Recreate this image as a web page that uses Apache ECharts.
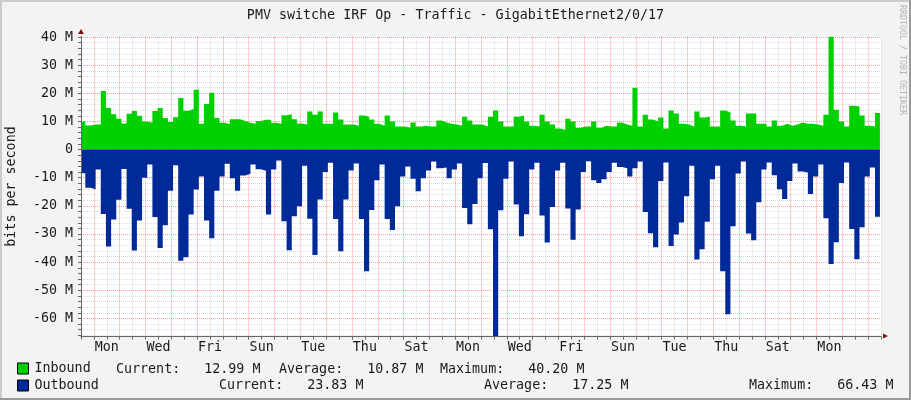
<!DOCTYPE html>
<html>
<head>
    <meta charset="utf-8">
    <title>PMV switche IRF Op - Traffic</title>
    <script src="https://cdn.jsdelivr.net/npm/echarts@6/dist/echarts.min.js"></script>
    <style>
        html, body { margin: 0; padding: 0; background: #f3f3f3; }
    </style>
</head>
<body>
    <div id="chart" style="width: 911px;height:400px;"></div>
    <script type="text/javascript">
        // values in M (bits per second), one per 4.8 hour step
        var inbound = [
            10.0, 8.6, 8.9, 8.9, 20.8, 14.8, 12.6, 11.0, 9.3, 12.7, 13.7, 12.0, 10.0, 9.5, 13.7, 14.8, 11.2, 9.8, 11.5, 18.3,
            13.8, 14.4, 21.3, 9.2, 16.2, 20.2, 11.2, 9.5, 9.1, 10.8, 10.8, 10.2, 9.5, 9.2, 10.2, 10.6, 10.6, 9.5, 9.2, 12.2,
            12.6, 10.8, 9.3, 8.9, 13.5, 12.4, 13.5, 9.2, 9.2, 13.2, 10.7, 8.9, 8.9, 8.5, 12.1, 11.7, 10.7, 9.2, 8.5, 12.1,
            10.0, 8.2, 8.2, 7.8, 9.6, 8.2, 8.5, 8.2, 8.2, 10.3, 9.6, 9.2, 8.9, 8.5, 11.7, 10.3, 8.9, 8.9, 8.2, 11.7,
            13.9, 10.0, 8.2, 8.2, 11.7, 12.1, 10.0, 8.5, 8.2, 12.4, 10.0, 8.9, 7.5, 7.1, 11.0, 10.0, 7.8, 8.2, 8.2, 10.0,
            7.8, 8.5, 8.2, 8.2, 9.6, 8.9, 8.5, 22.0, 8.2, 12.4, 10.7, 10.0, 11.4, 7.5, 13.9, 12.8, 9.2, 8.9, 8.2, 13.5,
            11.4, 11.7, 8.2, 8.2, 13.9, 13.2, 10.3, 8.5, 8.2, 12.8, 12.8, 9.2, 9.2, 8.2, 10.3, 8.5, 9.2, 8.5, 8.9, 9.6,
            9.2, 9.2, 8.9, 8.5, 12.4, 40.2, 14.2, 10.0, 8.2, 15.6, 15.3, 12.1, 8.5, 8.2, 12.99
        ];
        var outbound = [
            -8.4, -13.6, -14.1, -7.1, -22.9, -34.4, -24.8, -17.8, -6.9, -21.0, -35.9, -25.2, -10.0, -5.3, -24.0, -35.0, -26.9, -14.6, -5.6, -39.5,
            -38.3, -23.1, -14.2, -9.6, -25.2, -31.5, -14.6, -9.6, -5.0, -10.2, -14.6, -9.2, -8.6, -5.3, -7.0, -7.5, -23.1, -7.1, -3.9, -25.5,
            -35.8, -23.7, -20.1, -5.7, -24.6, -37.5, -17.7, -8.0, -4.7, -24.7, -36.1, -17.7, -7.4, -4.9, -24.7, -43.2, -21.5, -10.9, -5.3, -24.7,
            -28.6, -20.1, -9.6, -6.0, -10.4, -14.8, -10.2, -7.4, -4.2, -6.6, -6.4, -10.2, -7.1, -4.9, -20.8, -26.5, -19.3, -10.2, -4.8, -28.3,
            -66.43, -21.6, -10.4, -4.2, -19.5, -30.8, -23.0, -7.1, -4.7, -23.4, -33.0, -20.4, -7.4, -4.7, -20.9, -32.0, -21.3, -8.0, -4.1, -10.9,
            -11.9, -10.5, -8.0, -4.7, -6.2, -6.6, -9.6, -6.6, -4.2, -22.2, -29.7, -34.7, -11.2, -4.6, -34.3, -30.2, -25.9, -16.6, -5.7, -39.1,
            -35.4, -25.6, -10.5, -5.7, -43.2, -58.5, -27.2, -8.5, -4.2, -29.8, -32.2, -18.7, -7.1, -4.6, -9.1, -14.1, -17.6, -11.2, -4.9, -7.8,
            -8.1, -15.8, -9.6, -5.3, -24.4, -40.7, -32.9, -11.9, -4.6, -28.2, -39.0, -27.6, -9.6, -6.4, -23.83
        ];
        var dayLabels = ['Mon', 'Wed', 'Fri', 'Sun', 'Tue', 'Thu', 'Sat', 'Mon', 'Wed', 'Fri', 'Sun', 'Tue', 'Thu', 'Sat', 'Mon'];
        var yLabelValues = [-60, -50, -40, -30, -20, -10, 0, 10, 20, 30, 40];
        var yGridValues = [
            -66, -64, -62, -60, -58, -56, -54, -52, -50, -48, -46, -44, -42, -40, -38, -36, -34, -32, -30, -28, -26, -24, -22, -20, -18, -16, -14,
            -12, -10, -8, -6, -4, -2, 0, 2, 4, 6, 8, 10, 12, 14, 16, 18, 20, 22, 24, 26, 28, 30, 32, 34, 36, 38, 40
        ];
        var inboundStats = ['12.99 M', '10.87 M', '40.20 M'];
        var outboundStats = ['23.83 M', '17.25 M', '66.43 M'];

        var mono = '"DejaVu Sans Mono", monospace';
        var textColor = '#1a1a1a';
        var redGrid = 'rgba(255,0,0,0.4)';
        var greyGrid = 'rgba(128,128,128,0.28)';

        // x is hours since the left edge, the first step is cut off by the edge
        function stepData(values) {
            var data = values.map(function(v, i) {
                return [i === 0 ? 0 : 4 + (i - 1) * 4.8, v];
            });
            data.push([743, values[values.length - 1]]);
            return data;
        }

        function statText(x, y, s) {
            return { type: 'text', x: x, y: y, style: { text: s, font: '13.33px ' + mono, fill: textColor } };
        }

        var myChart = echarts.init(document.getElementById('chart'));

        var option = {
            animation: false,
            backgroundColor: '#f3f3f3',
            title: {
                text: 'PMV switche IRF Op - Traffic - GigabitEthernet2/0/17',
                left: 455.5,
                top: 9,
                padding: 0,
                textAlign: 'center',
                textStyle: { fontFamily: mono, fontSize: 13.33, fontWeight: 'normal', color: textColor }
            },
            legend: {
                orient: 'vertical',
                left: 17,
                top: 362,
                padding: 0,
                itemWidth: 11,
                itemHeight: 11,
                itemGap: 4,
                icon: 'rect',
                textStyle: { fontFamily: mono, fontSize: 13.33, color: textColor, padding: [0, 0, 0, 1] },
                data: [
                    { name: 'Inbound', itemStyle: { color: '#00cf00', borderColor: '#000', borderWidth: 1 } },
                    { name: 'Outbound', itemStyle: { color: '#002a97', borderColor: '#000', borderWidth: 1 } }
                ]
            },
            grid: {
                left: 81, top: 36.5, width: 800, height: 300,
                outerBoundsMode: 'none',
                show: true, backgroundColor: '#fff', borderWidth: 0
            },
            xAxis: {
                type: 'value',
                min: 0,
                max: 744,
                interval: 24,
                z: 3,
                axisLine: { onZero: false, lineStyle: { color: '#666' } },
                axisTick: { length: 3, lineStyle: { color: '#666' } },
                minorTick: { show: true, splitNumber: 2, length: 3, lineStyle: { color: '#666' } },
                axisLabel: {
                    margin: 5,
                    fontFamily: mono,
                    fontSize: 13.33,
                    color: textColor,
                    showMinLabel: false,
                    showMaxLabel: false,
                    formatter: function(h) {
                        return (h - 24) % 48 === 0 ? dayLabels[(h - 24) / 48] : '';
                    }
                },
                splitLine: { show: true, lineStyle: { color: greyGrid, type: [1, 1] } },
                minorSplitLine: { show: true, lineStyle: { color: redGrid, type: [1, 1] } }
            },
            yAxis: {
                type: 'value',
                min: -66.43,
                max: 40.2,
                z: 3,
                name: 'bits per second',
                nameLocation: 'middle',
                nameGap: 63,
                nameTextStyle: { fontFamily: mono, fontSize: 13.33, color: textColor },
                axisLine: { show: true, lineStyle: { color: '#666' } },
                axisTick: { show: true, length: 3, customValues: yGridValues, lineStyle: { color: '#666' } },
                axisLabel: {
                    margin: 8,
                    padding: [2, 0, 0, 0],
                    customValues: yLabelValues,
                    fontFamily: mono,
                    fontSize: 13.33,
                    color: textColor,
                    formatter: function(v) {
                        return v === 0 ? '0' : v + ' M';
                    }
                },
                // colours cycle over yGridValues so that every 10 M is red
                splitLine: {
                    show: true,
                    lineStyle: { color: [greyGrid, greyGrid, greyGrid, redGrid, greyGrid], type: [1, 1] }
                }
            },
            series: [
                {
                    name: 'Inbound',
                    type: 'line',
                    step: 'end',
                    symbol: 'none',
                    data: stepData(inbound),
                    lineStyle: { width: 0 },
                    itemStyle: { color: '#00cf00' },
                    areaStyle: { color: '#00cf00', opacity: 1 }
                },
                {
                    name: 'Outbound',
                    type: 'line',
                    step: 'end',
                    symbol: 'none',
                    data: stepData(outbound),
                    lineStyle: { width: 0 },
                    itemStyle: { color: '#002a97' },
                    areaStyle: { color: '#002a97', opacity: 1 }
                }
            ],
            graphic: [
                // frame shading
                { type: 'rect', shape: { x: 0, y: 0, width: 911, height: 2 }, style: { fill: '#cbcbcb' } },
                { type: 'rect', shape: { x: 0, y: 0, width: 2, height: 400 }, style: { fill: '#cbcbcb' } },
                { type: 'rect', shape: { x: 0, y: 398, width: 911, height: 2 }, style: { fill: '#999' } },
                { type: 'rect', shape: { x: 909, y: 0, width: 2, height: 400 }, style: { fill: '#999' } },
                // axis arrows
                { type: 'polygon', shape: { points: [[78, 34], [84, 34], [81, 29]] }, style: { fill: '#7f1010' }, z: 10 },
                { type: 'polygon', shape: { points: [[883, 333.5], [883, 338.5], [888, 336]] }, style: { fill: '#7f1010' }, z: 10 },
                {
                    type: 'text', x: 906, y: 5, rotation: -Math.PI / 2,
                    style: { text: 'RRDTOOL / TOBI OETIKER', font: '8.3px ' + mono, fill: '#b5b5b5' }
                },
                statText(116, 363, 'Current:   ' + inboundStats[0]),
                statText(279, 363, 'Average:   ' + inboundStats[1]),
                statText(440, 363, 'Maximum:   ' + inboundStats[2]),
                statText(219, 379, 'Current:   ' + outboundStats[0]),
                statText(484, 379, 'Average:   ' + outboundStats[1]),
                statText(749, 379, 'Maximum:   ' + outboundStats[2])
            ]
        };

        myChart.setOption(option);
    </script>
</body>
</html>
